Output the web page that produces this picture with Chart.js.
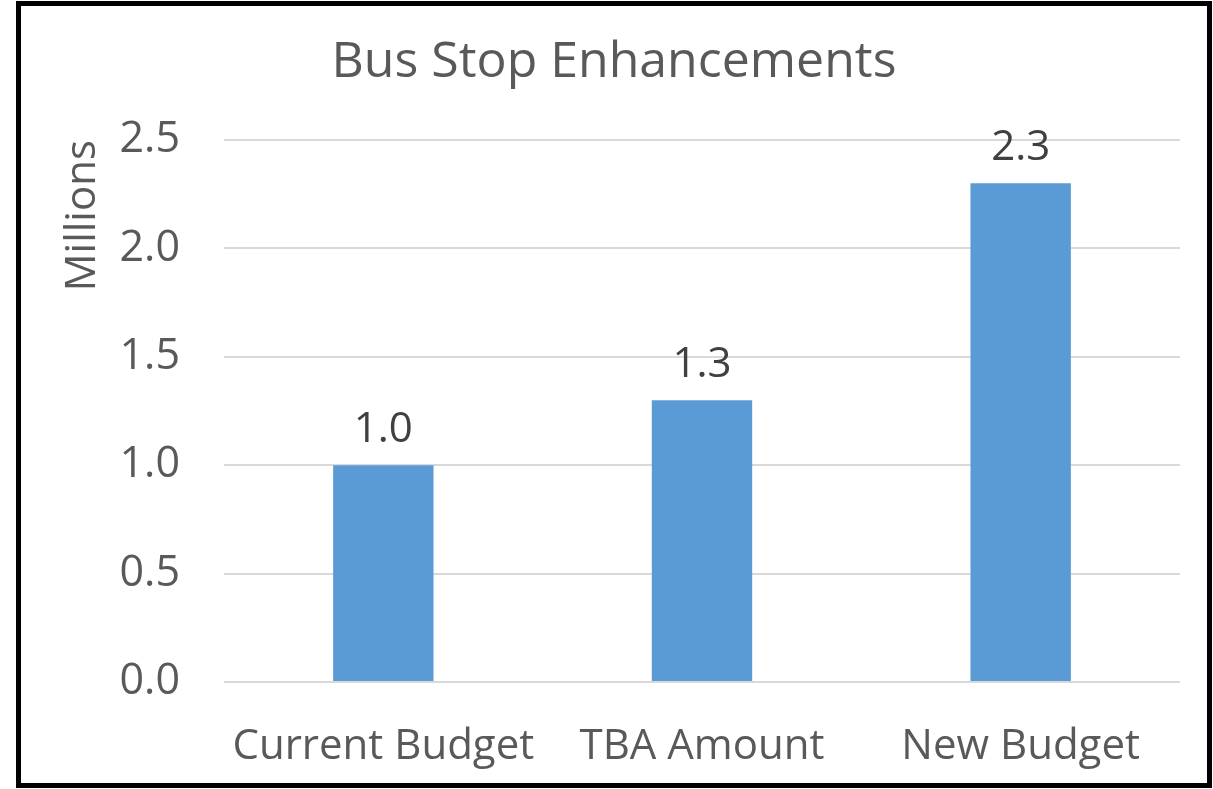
<!DOCTYPE html>
<html>
<head>
<meta charset="utf-8">
<script src="https://cdn.jsdelivr.net/npm/chart.js@4"></script>
<style>
    body { margin: 0; background: #fff; }
    #chartBox {
        position: absolute;
        left: 16px;
        top: 1px;
        width: 1186px;
        height: 777px;
        border: 5px solid #000;
        background: #fff;
    }
</style>
</head>
<body>
<div id="chartBox"><canvas id="budgetChart"></canvas></div>
<script>
const categories = ['Current Budget', 'TBA Amount', 'New Budget'];
const budgetValues = [1.0, 1.3, 2.3];
const chartTitle = 'Bus Stop Enhancements';
const yAxisTitle = 'Millions';
const yMin = 0;
const yMax = 2.5;
const yStep = 0.5;

const FONT = "'Open Sans', sans-serif";

// draws the value above each bar
const barValueLabels = {
    id: 'barValueLabels',
    afterDatasetsDraw(chart) {
        const ctx = chart.ctx;
        const meta = chart.getDatasetMeta(0);
        ctx.save();
        ctx.font = '42px ' + FONT;
        ctx.fillStyle = '#404040';
        ctx.textAlign = 'center';
        ctx.textBaseline = 'bottom';
        meta.data.forEach((bar, i) => {
            ctx.fillText(budgetValues[i].toFixed(1), bar.x, bar.y - 14);
        });
        ctx.restore();
    }
};

document.addEventListener('DOMContentLoaded', function() {
    const ctx = document.getElementById('budgetChart').getContext('2d');
    new Chart(ctx, {
        type: 'bar',
        data: {
            labels: categories,
            datasets: [{
                data: budgetValues,
                backgroundColor: '#5B9BD5',
                borderWidth: 0,
                barPercentage: 0.63,
                categoryPercentage: 0.5
            }]
        },
        options: {
            responsive: true,
            maintainAspectRatio: false,
            animation: false,
            layout: { padding: 0 },
            plugins: {
                legend: { display: false },
                tooltip: { enabled: false },
                title: {
                    display: true,
                    text: chartTitle,
                    color: '#595959',
                    font: { family: FONT, size: 50, weight: 'normal' },
                    padding: { top: 27, bottom: 47 }
                }
            },
            scales: {
                x: {
                    grid: { display: false },
                    border: { display: false },
                    ticks: {
                        color: '#595959',
                        font: { family: FONT, size: 42 },
                        padding: 32,
                        maxRotation: 0
                    },
                    afterFit: function(scale) { scale.height = 101; }
                },
                y: {
                    min: yMin,
                    max: yMax,
                    ticks: {
                        stepSize: yStep,
                        color: '#595959',
                        font: { family: FONT, size: 43 },
                        padding: 44,
                        callback: value => value.toFixed(1)
                    },
                    grid: { color: '#D9D9D9', lineWidth: 2, drawTicks: false },
                    border: { display: false },
                    title: {
                        display: true,
                        text: yAxisTitle,
                        align: 'end',
                        color: '#595959',
                        font: { family: FONT, size: 42 },
                        padding: { top: 37, bottom: 0 }
                    },
                    afterFit: function(scale) { scale.width = 203; }
                },
                // empty right margin so the title stays centred on the whole box
                rightGap: {
                    position: 'right',
                    min: yMin,
                    max: yMax,
                    grid: { display: false },
                    border: { display: false },
                    ticks: { display: false },
                    afterFit: function(scale) { scale.width = 27; }
                }
            }
        },
        plugins: [barValueLabels]
    });
});
</script>
</body>
</html>
